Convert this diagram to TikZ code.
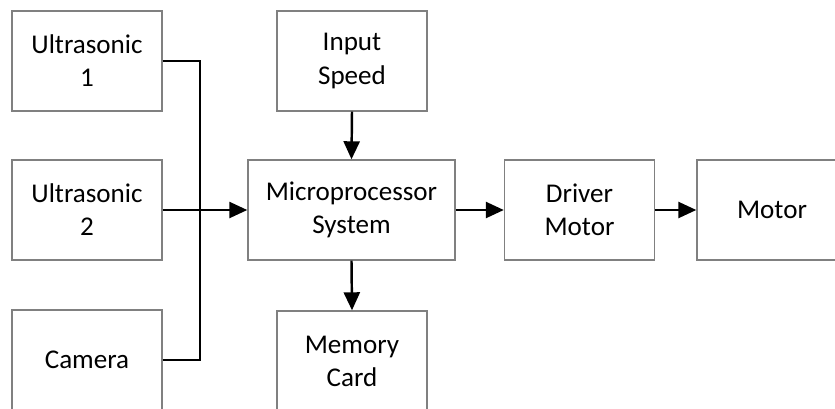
\documentclass[tikz,border=0pt]{standalone}
\usepackage{fontspec}
\setmainfont{Carlito}
\usetikzlibrary{arrows.meta}

\begin{document}
\begin{tikzpicture}[
            block/.style={draw=black!50, line width=0.8pt, fill=white, align=center,
                minimum width=3cm, minimum height=2cm, inner sep=0pt,
                font=\fontsize{15.4}{18.8}\selectfont},
            wire/.style={draw=black, line width=1.4pt},
            flow/.style={wire, -{Triangle[length=0.36cm, width=0.32cm]}}
        ]
            \useasboundingbox (0, 0) rectangle (16.7, 8.16);
            % sensors
            \node[block] (us1) at (1.74, 6.94) {Ultrasonic\\1};
            \node[block] (us2) at (1.74, 3.96) {Ultrasonic\\2};
            \node[block] (cam) at (1.74, 0.96) {Camera};
            % middle column
            \node[block] (speed) at (7.04, 6.94) {Input\\Speed};
            \node[block, minimum width=4.14cm] (micro) at (7.03, 3.96) {Microprocessor\\System};
            \node[block] (mem) at (7.04, 0.94) {Memory\\Card};
            % output
            \node[block] (driver) at (11.59, 3.96) {Driver\\Motor};
            \node[block] (motor) at (15.44, 3.96) {Motor};
            % lines
            \coordinate (bus) at (4.0, 3.96);
            \draw[wire] (us1.east) -| (bus);
            \draw[wire] (cam.east) -| (bus);
            \draw[flow] (us2.east) -- (micro.west);
            \draw[flow] (speed.south) -- (micro.north);
            \draw[flow] (micro.south) -- (mem.north);
            \draw[flow] (micro.east) -- (driver.west);
            \draw[flow] (driver.east) -- (motor.west);
        \end{tikzpicture}
\end{document}
